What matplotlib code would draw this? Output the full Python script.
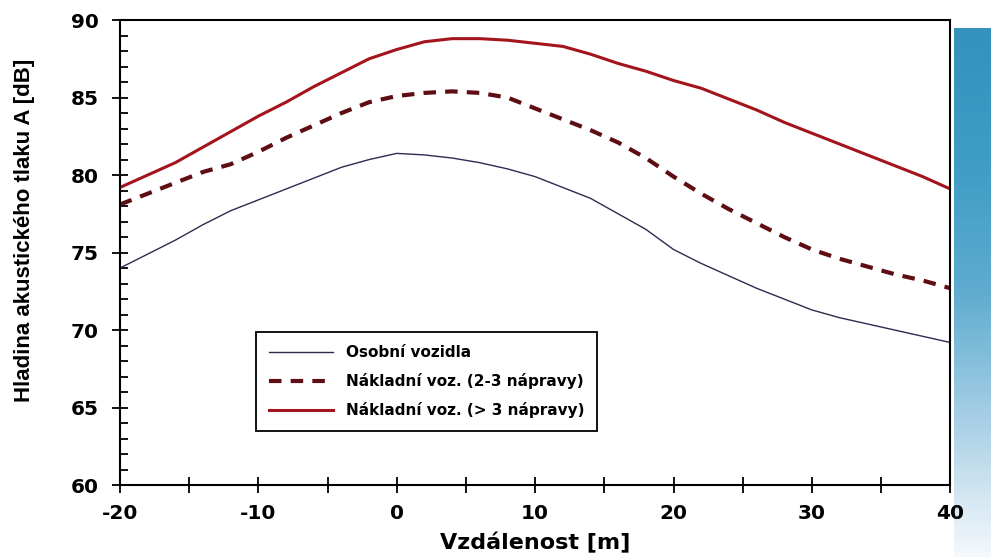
import numpy as np
import matplotlib.pyplot as plt
from matplotlib.ticker import MultipleLocator
from matplotlib.colors import LinearSegmentedColormap

plt.rcParams['axes.unicode_minus'] = False

# distance [m]
distance = [-20, -18, -16, -14, -12, -10, -8, -6, -4, -2, 0, 2, 4, 6, 8, 10,
            12, 14, 16, 18, 20, 22, 24, 26, 28, 30, 32, 34, 36, 38, 40]

# osobni vozidla
cars = [74.0, 74.9, 75.8, 76.8, 77.7, 78.4, 79.1, 79.8, 80.5, 81.0, 81.4, 81.3,
        81.1, 80.8, 80.4, 79.9, 79.2, 78.5, 77.5, 76.5, 75.2, 74.3, 73.5, 72.7,
        72.0, 71.3, 70.8, 70.4, 70.0, 69.6, 69.2]

# nakladni 2-3 napravy
trucks_23 = [78.1, 78.8, 79.5, 80.2, 80.7, 81.5, 82.4, 83.2, 84.0, 84.7, 85.1,
             85.3, 85.4, 85.3, 85.0, 84.3, 83.6, 82.9, 82.1, 81.1, 79.9, 78.8,
             77.8, 76.9, 76.0, 75.2, 74.6, 74.1, 73.6, 73.2, 72.7]

# nakladni > 3 napravy
trucks_3plus = [79.2, 80.0, 80.8, 81.8, 82.8, 83.8, 84.7, 85.7, 86.6, 87.5, 88.1,
                88.6, 88.8, 88.8, 88.7, 88.5, 88.3, 87.8, 87.2, 86.7, 86.1, 85.6,
                84.9, 84.2, 83.4, 82.7, 82.0, 81.3, 80.6, 79.9, 79.1]

labels = ['Osobní vozidla', 'Nákladní voz. (2-3 nápravy)', 'Nákladní voz. (> 3 nápravy)']

fig = plt.figure(figsize=(9.91, 5.57), dpi=100)

# teal strip on the right edge (from the scan)
bg = fig.add_axes([0.963, 0.0, 0.037, 0.95])
grad = np.linspace(0, 1, 100).reshape(-1, 1)
scan = LinearSegmentedColormap.from_list('scan', ['#f4f8fb', '#a9d0e6', '#5eaccf', '#3f9cc4', '#3592bd'])
bg.imshow(grad, aspect='auto', cmap=scan, origin='lower', extent=[0, 1, 0, 1])
bg.axis('off')

ax = fig.add_axes([0.121, 0.129, 0.838, 0.835])

ax.plot(distance, cars, color='#2b2d4f', linewidth=1.0, label=labels[0])
ax.plot(distance, trucks_23, color='#5e0d12', linewidth=3.0, dashes=(3, 2.2), label=labels[1])
ax.plot(distance, trucks_3plus, color='#a3141c', linewidth=2.2, label=labels[2])

ax.set_xlim(-20, 40)
ax.set_ylim(60, 90)

ax.xaxis.set_major_locator(MultipleLocator(10))
ax.xaxis.set_minor_locator(MultipleLocator(5))
ax.yaxis.set_major_locator(MultipleLocator(5))
ax.yaxis.set_minor_locator(MultipleLocator(1))

ax.tick_params(axis='x', which='both', direction='inout', length=11, width=1.3, pad=8)
ax.tick_params(axis='y', which='major', direction='inout', length=11, width=1.3, pad=10)
ax.tick_params(axis='y', which='minor', direction='in', length=6, width=1.3)
ax.tick_params(top=False, right=False, which='both')

for lab in ax.get_xticklabels() + ax.get_yticklabels():
    lab.set_fontsize(14.5)
    lab.set_fontweight('bold')
    lab.set_family('DejaVu Sans')

for sp in ax.spines.values():
    sp.set_linewidth(1.5)

ax.set_xlabel('Vzdálenost [m]', fontsize=16, fontweight='bold', labelpad=7)
ax.set_ylabel('Hladina akustického tlaku A [dB]', fontsize=16, fontweight='bold',
              family='Liberation Sans')
ax.yaxis.set_label_coords(-0.102, 0.548)

leg = ax.legend(loc='lower left', bbox_to_anchor=(0.155, 0.1), fancybox=False,
                edgecolor='black', framealpha=1, handlelength=4.2,
                prop={'weight': 'bold', 'size': 11, 'family': 'DejaVu Sans'},
                borderpad=0.85, labelspacing=0.85)
leg.get_frame().set_linewidth(1.3)

plt.savefig('out.png', dpi=100)
